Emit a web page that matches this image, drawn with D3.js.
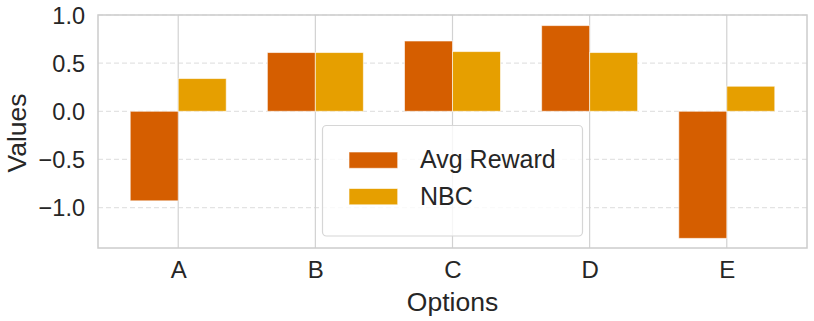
<!DOCTYPE html>
<html><head><meta charset="utf-8">
<script src="https://cdn.jsdelivr.net/npm/d3@7"></script>
<style>body{margin:0;background:#fff}svg{display:block}text{font-family:"Liberation Sans",Arial,sans-serif;fill:#262626}</style>
</head><body><svg id="c" width="814" height="321"></svg>
<script>
const categories = ["A","B","C","D","E"];
const avgReward = [-0.93, 0.61, 0.73, 0.89, -1.32];
const nbc = [0.34, 0.61, 0.62, 0.61, 0.26];
const yTicks = [-1.0, -0.5, 0.0, 0.5, 1.0];
const seriesNames = ["Avg Reward", "NBC"];
const colors = ["#D55E00", "#E69F00"];

const svg = d3.select("#c");
const L = 98, R = 807, T = 15, B = 248;
const barW = 0.35;
const x = d3.scaleLinear().domain([-0.585, 4.585]).range([L, R]);
const y = d3.scaleLinear().domain([-1.42, 1.0]).range([B, T]);

// grid
const g = svg.append("g");
g.selectAll(".hg").data(yTicks).join("line")
  .attr("x1", L).attr("x2", R).attr("y1", d => y(d)).attr("y2", d => y(d))
  .attr("stroke", "#e3e3e3").attr("stroke-width", 1.2).attr("stroke-dasharray", "5,3");
g.selectAll(".vg").data(categories).join("line")
  .attr("x1", (d,i) => x(i)).attr("x2", (d,i) => x(i)).attr("y1", T).attr("y2", B)
  .attr("stroke", "#d2d2d2").attr("stroke-width", 1.2);

// bars
const series = [avgReward, nbc];
series.forEach((vals, s) => {
  svg.append("g").selectAll("rect").data(vals).join("rect")
    .attr("x", (d,i) => x(i + (s === 0 ? -barW : 0)))
    .attr("width", x(barW) - x(0))
    .attr("y", d => y(Math.max(0, d)))
    .attr("height", d => Math.abs(y(d) - y(0)))
    .attr("fill", colors[s])
    .attr("stroke", "#ffffff").attr("stroke-opacity", 0.6).attr("stroke-width", 1);
});

// spines
svg.append("rect").attr("x", L).attr("y", T).attr("width", R - L).attr("height", B - T)
  .attr("fill", "none").attr("stroke", "#cccccc").attr("stroke-width", 1.5);

// axes
const yAxis = d3.axisLeft(y).tickValues(yTicks).tickSize(0).tickPadding(13)
  .tickFormat(d => d3.format(".1f")(d).replace("-", "\u2212"));
const ya = svg.append("g").attr("transform", `translate(${L},0)`).call(yAxis);
ya.select(".domain").remove();
ya.selectAll("text").style("font-size", "23.5px").attr("fill", "#262626").attr("dy", "0.35em");

const xAxis = d3.axisBottom(x).tickValues(d3.range(categories.length)).tickSize(0).tickPadding(13)
  .tickFormat(i => categories[i]);
const xa = svg.append("g").attr("transform", `translate(0,${B})`).call(xAxis);
xa.select(".domain").remove();
xa.selectAll("text").style("font-size", "24px").attr("fill", "#262626");

// axis labels
svg.append("text").attr("x", (L + R) / 2).attr("y", 311).attr("text-anchor", "middle")
  .style("font-size", "26.5px").text("Options");
svg.append("text").attr("transform", "translate(26,133) rotate(-90)").attr("text-anchor", "middle")
  .style("font-size", "26.5px").text("Values");

// legend
const lg = svg.append("g");
lg.append("rect").attr("x", 322.5).attr("y", 125.5).attr("width", 260).attr("height", 110.5)
  .attr("rx", 4).attr("fill", "#ffffff").attr("fill-opacity", 0.8)
  .attr("stroke", "#d6d6d6").attr("stroke-width", 1.2);
seriesNames.forEach((name, i) => {
  const yy = 152 + i * 36.5;
  lg.append("rect").attr("x", 349).attr("y", yy).attr("width", 48.7).attr("height", 16.3)
    .attr("fill", colors[i]).attr("stroke", "#fff").attr("stroke-opacity", 0.6);
  lg.append("text").attr("x", 420).attr("y", yy + 16.3).style("font-size", "25px").text(name);
});
</script></body></html>
